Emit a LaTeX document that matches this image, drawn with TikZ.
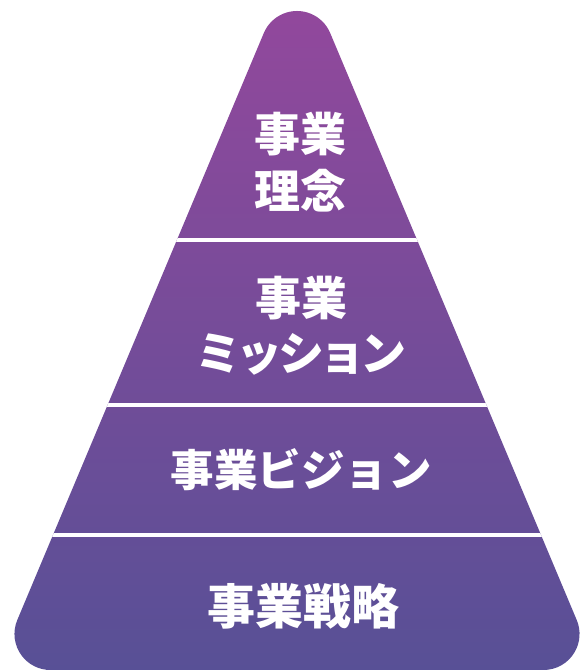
\documentclass[tikz,border=0pt]{standalone}
\usepackage{fontspec}
\newfontfamily\jp{Noto Sans CJK JP}
\tikzset{
  lbl/.style={text=white, font=\jp\bfseries, align=center, inner sep=0pt},
  divider/.style={white, line width=4pt},
}
\begin{document}
\begin{tikzpicture}[x=1pt,y=1pt]
\useasboundingbox (0,0) rectangle (581,671);
\def\pyr{(50.45,1) -- (543.55,1) arc[start angle=-90,end angle=22.78,radius=36pt] -- (330.19,637.94) arc[start angle=22.78,end angle=157.22,radius=36pt] -- (17.26,50.94) arc[start angle=157.22,end angle=270,radius=36pt] -- cycle}
\shade[top color={rgb,255:red,146;green,72;blue,156}, bottom color={rgb,255:red,88;green,80;blue,150}] \pyr;
\begin{scope}
\clip \pyr;
\draw[divider] (0,431) -- (581,431);
\draw[divider] (0,266) -- (581,266);
\draw[divider] (0,136) -- (581,136);
\end{scope}
\node[lbl, font=\jp\bfseries\fontsize{46}{57}\selectfont] (riinen) at (300,508.5) {事業\\理念};
\node[lbl, font=\jp\bfseries\fontsize{46}{55}\selectfont] (mission) at (301,345.5) {事業\\{\addfontfeature{LetterSpace=-10}ミッション}};
\node[lbl, font=\jp\bfseries\fontsize{43.5}{50}\selectfont] (vision) at (301,201) {事業ビジョン};
\node[lbl, font=\jp\bfseries\fontsize{48}{50}\selectfont] (senryaku) at (303,65) {事業戦略};
\end{tikzpicture}
\end{document}
